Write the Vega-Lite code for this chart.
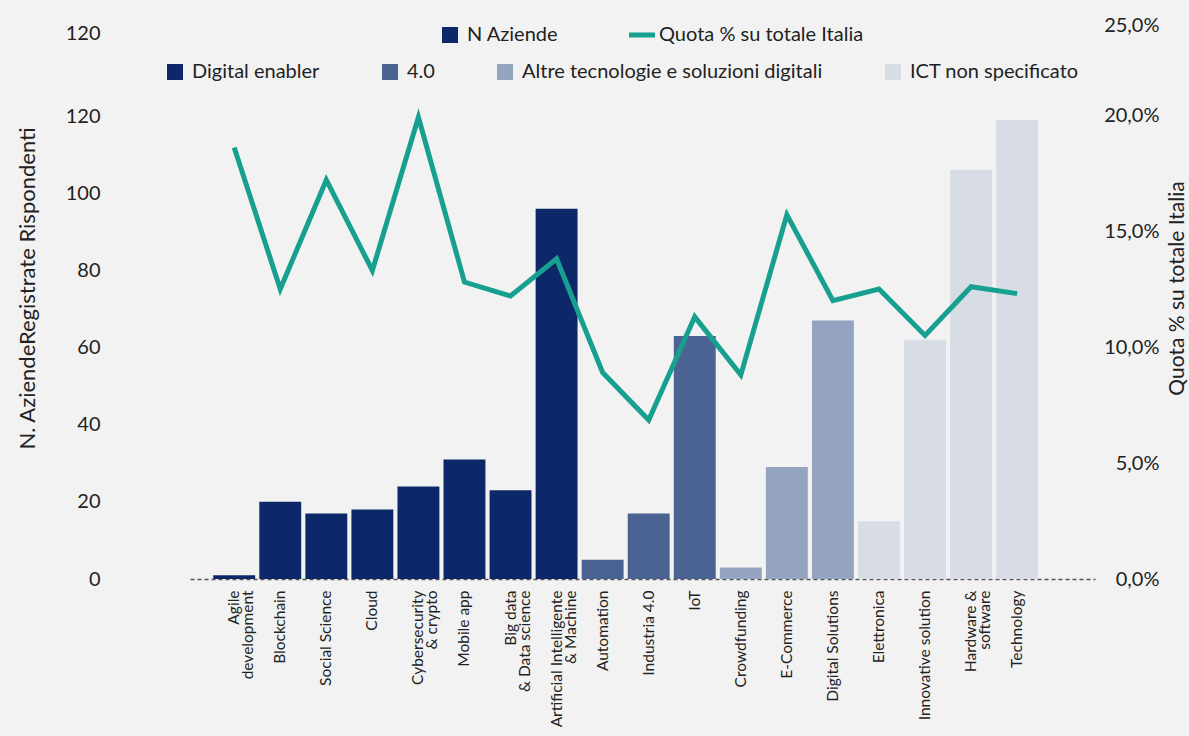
{
  "$schema": "https://vega.github.io/schema/vega-lite/v6.json",
  "width": 905,
  "height": 554,
  "autosize": "none",
  "padding": {"left": 190, "top": 25, "right": 94, "bottom": 157},
  "background": "#f2f2f2",
  "config": {
    "view": {"stroke": null},
    "font": "Lato",
    "axis": {"labelFont": "Lato", "titleFont": "Lato", "labelColor": "#222222", "titleColor": "#222222", "grid": false, "ticks": false},
    "legend": {"labelFont": "Lato", "labelColor": "#222222", "padding": 0, "labelLimit": 0}
  },
  "data": {
    "values": [
      {"categoria": "Agile\ndevelopment", "gruppo": "Digital enabler", "n": 1, "quota": 0.186, "serie": "Quota % su totale Italia"},
      {"categoria": "Blockchain", "gruppo": "Digital enabler", "n": 20, "quota": 0.125, "serie": "Quota % su totale Italia"},
      {"categoria": "Social Science", "gruppo": "Digital enabler", "n": 17, "quota": 0.172, "serie": "Quota % su totale Italia"},
      {"categoria": "Cloud", "gruppo": "Digital enabler", "n": 18, "quota": 0.133, "serie": "Quota % su totale Italia"},
      {"categoria": "Cybersecurity\n& crypto", "gruppo": "Digital enabler", "n": 24, "quota": 0.199, "serie": "Quota % su totale Italia"},
      {"categoria": "Mobile app", "gruppo": "Digital enabler", "n": 31, "quota": 0.128, "serie": "Quota % su totale Italia"},
      {"categoria": "Big data\n& Data science", "gruppo": "Digital enabler", "n": 23, "quota": 0.122, "serie": "Quota % su totale Italia"},
      {"categoria": "Artificial Intelligente\n& Machine", "gruppo": "Digital enabler", "n": 96, "quota": 0.138, "serie": "Quota % su totale Italia"},
      {"categoria": "Automation", "gruppo": "4.0", "n": 5, "quota": 0.089, "serie": "Quota % su totale Italia"},
      {"categoria": "Industria 4.0", "gruppo": "4.0", "n": 17, "quota": 0.0685, "serie": "Quota % su totale Italia"},
      {"categoria": "IoT", "gruppo": "4.0", "n": 63, "quota": 0.113, "serie": "Quota % su totale Italia"},
      {"categoria": "Crowdfunding", "gruppo": "Altre tecnologie e soluzioni digitali", "n": 3, "quota": 0.088, "serie": "Quota % su totale Italia"},
      {"categoria": "E-Commerce", "gruppo": "Altre tecnologie e soluzioni digitali", "n": 29, "quota": 0.157, "serie": "Quota % su totale Italia"},
      {"categoria": "Digital Solutions", "gruppo": "Altre tecnologie e soluzioni digitali", "n": 67, "quota": 0.12, "serie": "Quota % su totale Italia"},
      {"categoria": "Elettronica", "gruppo": "ICT non specificato", "n": 15, "quota": 0.125, "serie": "Quota % su totale Italia"},
      {"categoria": "Innovative solution", "gruppo": "ICT non specificato", "n": 62, "quota": 0.105, "serie": "Quota % su totale Italia"},
      {"categoria": "Hardware &\nsoftware", "gruppo": "ICT non specificato", "n": 106, "quota": 0.126, "serie": "Quota % su totale Italia"},
      {"categoria": "Technology", "gruppo": "ICT non specificato", "n": 119, "quota": 0.123, "serie": "Quota % su totale Italia"}
    ]
  },
  "encoding": {
    "x": {
      "field": "categoria",
      "type": "nominal",
      "sort": null,
      "scale": {"paddingInner": 0.09, "paddingOuter": 0.87, "align": 0.29},
      "axis": {
        "title": null,
        "labelAngle": 270,
        "labelAlign": "right",
        "labelBaseline": "middle",
        "labelFontSize": 15.5,
        "labelPadding": 11,
        "labelExpr": "split(datum.label, '\\n')",
        "labelLineHeight": 14,
        "domainColor": "#555555",
        "domainDash": [4, 3],
        "domainWidth": 1.5
      }
    }
  },
  "layer": [
    {
      "mark": {"type": "bar"},
      "encoding": {
        "y": {
          "field": "n",
          "type": "quantitative",
          "scale": {"domain": [0, 143.6], "nice": false, "zero": true},
          "axis": {
            "orient": "left",
            "title": "N. AziendeRegistrate Rispondenti",
            "titleFontSize": 22,
            "titleFontWeight": "normal",
            "titlePadding": 26,
            "titleY": 263,
            "values": [0, 20, 40, 60, 80, 100, 120, 141.5],
            "labelExpr": "datum.value > 130 ? '120' : datum.label",
            "labelFontSize": 20,
            "labelPadding": 90,
            "domain": false
          }
        },
        "color": {
          "field": "gruppo",
          "type": "nominal",
          "scale": {
            "domain": ["Digital enabler", "4.0", "Altre tecnologie e soluzioni digitali", "ICT non specificato"],
            "range": ["#0c2869", "#4b6393", "#94a3c0", "#d8dce5"]
          },
          "legend": {
            "title": null,
            "orient": "none",
            "direction": "horizontal",
            "legendX": -25,
            "legendY": 37,
            "symbolType": "square",
            "symbolSize": 256,
            "symbolOpacity": 1,
            "labelFontSize": 20,
            "labelOffset": 7,
            "columnPadding": 60
          }
        }
      }
    },
    {
      "mark": {"type": "line", "strokeWidth": 5},
      "encoding": {
        "y": {
          "field": "quota",
          "type": "quantitative",
          "scale": {"domain": [0, 0.2388], "nice": false, "zero": true},
          "axis": {
            "orient": "right",
            "title": "Quota % su totale Italia",
            "titleFontSize": 21,
            "titleFontWeight": "normal",
            "titleAngle": 270,
            "titleX": 82,
            "titleY": 263,
            "titleBaseline": "middle",
            "titleAlign": "center",
            "values": [0, 0.05, 0.1, 0.15, 0.2, 0.2388],
            "labelExpr": "datum.value > 0.22 ? '25,0%' : replace(format(datum.value, '.1%'), '.', ',')",
            "labelFontSize": 20,
            "labelAlign": "right",
            "labelPadding": 64,
            "domain": false
          }
        },
        "stroke": {
          "field": "serie",
          "type": "nominal",
          "scale": {"domain": ["N Aziende", "Quota % su totale Italia"], "range": ["#0c2869", "#17a08f"]},
          "legend": {
            "title": null,
            "orient": "none",
            "direction": "horizontal",
            "legendX": 250,
            "legendY": 0,
            "labelFontSize": 20,
            "labelOffset": 7,
            "columnPadding": 60,
            "encode": {
              "symbols": {
                "update": {
                  "shape": {"signal": "datum.value === 'N Aziende' ? 'square' : 'stroke'"},
                  "size": {"signal": "datum.value === 'N Aziende' ? 256 : 676"},
                  "fill": {"signal": "datum.value === 'N Aziende' ? '#0c2869' : 'transparent'"},
                  "stroke": {"signal": "datum.value === 'N Aziende' ? '#0c2869' : '#17a08f'"},
                  "strokeWidth": {"signal": "datum.value === 'N Aziende' ? 0 : 5"}
                }
              }
            }
          }
        }
      }
    }
  ],
  "resolve": {"scale": {"y": "independent"}}
}
